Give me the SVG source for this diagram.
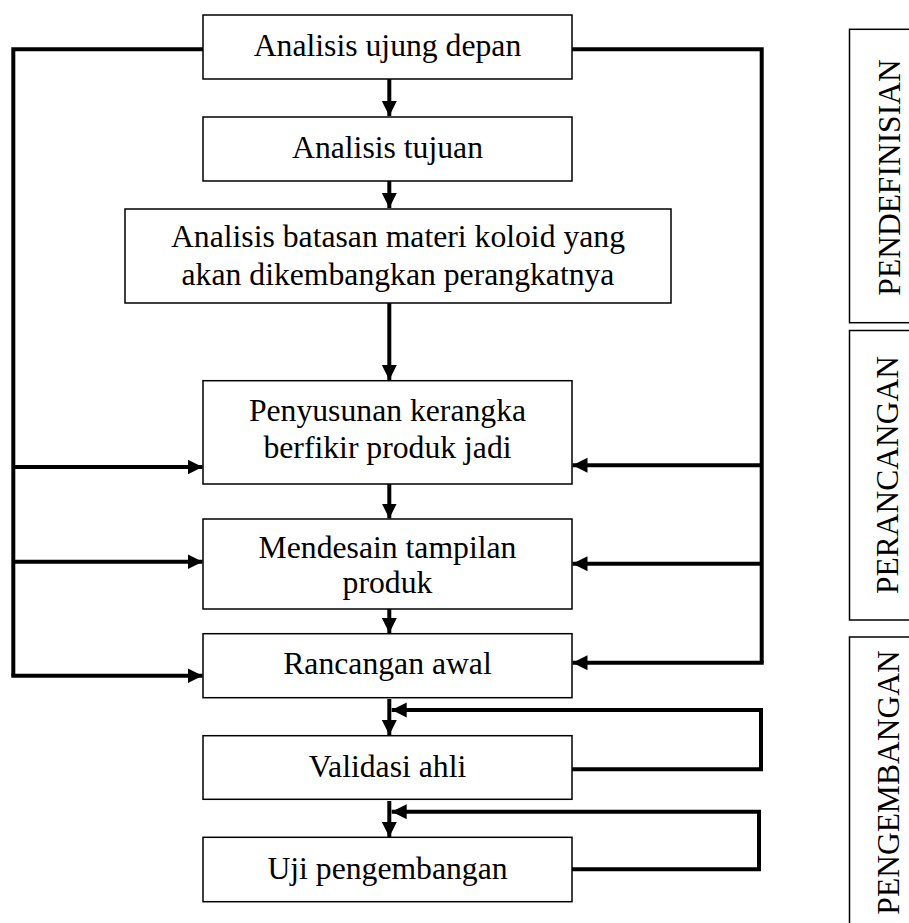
<svg xmlns="http://www.w3.org/2000/svg" width="909" height="923" viewBox="0 0 909 923">
<style>
.box{fill:#fff;stroke:#000;stroke-width:1.5}
.t{font-family:"Liberation Serif","Times New Roman",serif;font-size:31.7px;fill:#000;text-anchor:middle}
.v{font-family:"Liberation Serif","Times New Roman",serif;font-size:31.5px;fill:#000;text-anchor:middle}
.c{fill:none;stroke:#000;stroke-width:4;stroke-linejoin:miter}
</style>
<defs>
<marker id="ah" markerUnits="userSpaceOnUse" markerWidth="16" markerHeight="16" refX="15" refY="7.5" orient="auto">
<path d="M0,0 L15,7.5 L0,15 z" fill="#000"/>
</marker>
</defs>
<rect width="909" height="923" fill="#fff"/>
<g id="connectors">
<path class="c" d="M389.3,79 V116" marker-end="url(#ah)"/>
<path class="c" d="M389.3,181 V208" marker-end="url(#ah)"/>
<path class="c" d="M389.3,303 V380" marker-end="url(#ah)"/>
<path class="c" d="M389.3,484 V518.5" marker-end="url(#ah)"/>
<path class="c" d="M389.3,609 V633" marker-end="url(#ah)"/>
<path class="c" d="M389.3,699 V735" marker-end="url(#ah)"/>
<path class="c" d="M389.3,801 V837" marker-end="url(#ah)"/>
<path class="c" d="M203,49.3 H13.3 V675.7"/>
<path class="c" d="M13.3,467 H202.5" marker-end="url(#ah)"/>
<path class="c" d="M13.3,561.7 H202.5" marker-end="url(#ah)"/>
<path class="c" d="M11.3,675.7 H202.5" marker-end="url(#ah)"/>
<path class="c" d="M572,49.3 H761.7 V662.7"/>
<path class="c" d="M761.7,465.3 H572.5" marker-end="url(#ah)"/>
<path class="c" d="M761.7,563.7 H572.5" marker-end="url(#ah)"/>
<path class="c" d="M763.7,662.7 H572.5" marker-end="url(#ah)"/>
<path class="c" d="M572,769.3 H761 V710 H391.7" marker-end="url(#ah)"/>
<path class="c" d="M570,869.3 H759 V811.7 H391.7" marker-end="url(#ah)"/>
</g>
<g id="n1"><rect class="box" x="203" y="15" width="369" height="64"/><text class="t" x="387.5" y="56">Analisis ujung depan</text></g>
<g id="n2"><rect class="box" x="203" y="117" width="369" height="64"/><text class="t" x="387.5" y="158.3">Analisis tujuan</text></g>
<g id="n3"><rect class="box" x="125" y="209" width="546" height="94"/><text class="t" x="398" y="246.7">Analisis batasan materi koloid yang</text><text class="t" x="398" y="285">akan dikembangkan perangkatnya</text></g>
<g id="n4"><rect class="box" x="203" y="380.7" width="369" height="103.3"/><text class="t" x="387.5" y="420.5">Penyusunan kerangka</text><text class="t" x="387.5" y="458">berfikir produk jadi</text></g>
<g id="n5"><rect class="box" x="203" y="519" width="369" height="90"/><text class="t" x="387.5" y="557.7">Mendesain tampilan</text><text class="t" x="387.5" y="592.7">produk</text></g>
<g id="n6"><rect class="box" x="203" y="633.7" width="369" height="64"/><text class="t" x="387.5" y="674">Rancangan awal</text></g>
<g id="n7"><rect class="box" x="203" y="735.7" width="369" height="63.6"/><text class="t" x="387.5" y="777.3">Validasi ahli</text></g>
<g id="n8"><rect class="box" x="203" y="837.3" width="369" height="64.4"/><text class="t" x="387.5" y="879.3">Uji pengembangan</text></g>
<g id="p1"><rect class="box" x="849.5" y="29.3" width="70" height="293.4"/><text class="v" transform="translate(900,177.5) rotate(-90)">PENDEFINISIAN</text></g>
<g id="p2"><rect class="box" x="849.5" y="330.5" width="70" height="289.5"/><text class="v" transform="translate(898,475) rotate(-90)">PERANCANGAN</text></g>
<g id="p3"><rect class="box" x="849.5" y="637" width="70" height="300"/><text class="v" transform="translate(899,782.5) rotate(-90)">PENGEMBANGAN</text></g>
</svg>
